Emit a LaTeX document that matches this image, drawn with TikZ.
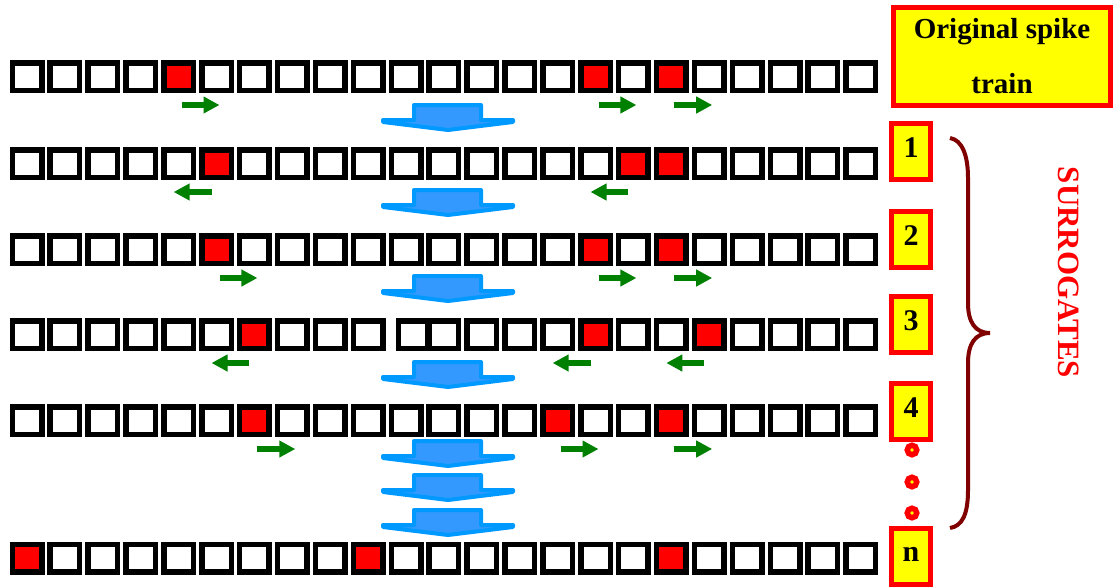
\documentclass[tikz,border=0pt]{standalone}
\usepackage{fontspec}
\setmainfont{Liberation Serif}
\usetikzlibrary{arrows.meta}
\definecolor{spikered}{RGB}{255,0,0}
\definecolor{shiftgreen}{RGB}{0,128,0}
\definecolor{flowblue}{RGB}{0,153,255}
\definecolor{flowfill}{RGB}{51,153,255}
\definecolor{tagyellow}{RGB}{255,255,0}
\definecolor{bracecol}{RGB}{128,0,0}

\begin{document}
\begin{tikzpicture}[x=1pt,y=-1pt,
  cell/.style={draw=black,fill=white,line width=5.5pt,minimum width=29.5pt,minimum height=27.5pt,inner sep=0pt},
  spike/.style={fill=spikered,minimum width=24pt,minimum height=22pt,inner sep=0pt},
  shiftarrow/.style={draw=shiftgreen,line width=6.5pt,-{Triangle[length=16pt,width=16pt]}},
  flow/.style={draw=flowblue,fill=flowfill,line width=4pt,line join=round},
  tagbox/.style={draw=spikered,fill=tagyellow,line width=5pt,inner sep=0pt},
  numtag/.style={minimum width=39pt,minimum height=56pt,font=\fontsize{30}{30}\selectfont\bfseries,text height=22pt,text depth=11pt},
  dot/.style={circle,draw=spikered,fill=tagyellow,line width=5.5pt,minimum size=9.5pt,inner sep=0pt}]
  \useasboundingbox (0,0) rectangle (1113,587);

  % spike trains: row / y / spike positions / nudge of cell 10
  \foreach \r/\y/\spikes/\nudge in {1/76.5/{4,15,17}/0, 2/163.5/{5,16,17}/0, 3/249.5/{5,15,17}/0,
      4/334.5/{6,15,18}/7, 5/420.5/{6,14,17}/0, n/558/{0,9,17}/0}{
    \foreach \i in {0,...,22}{
      \pgfmathsetmacro\bx{27+37.9*\i+\nudge*(\i==10)}
      \node[cell] (b\r-\i) at (\bx,\y) {};
    }
    \foreach \i in \spikes
      \node[spike] (s\r-\i) at (b\r-\i) {};
  }

  % shifts of the spikes
  \foreach \r/\i/\j in {1/4/5, 1/15/16, 1/17/18, 3/5/6, 3/15/16, 3/17/18, 5/6/7, 5/14/15, 5/17/18}
    \draw[shiftarrow] ([xshift=3pt,yshift=-28.5pt]b\r-\i.center) -- ([xshift=3pt,yshift=-28.5pt]b\r-\j.center);
  \foreach \r/\i/\j in {2/5/4, 2/16/15, 4/6/5, 4/15/14, 4/18/17}
    \draw[shiftarrow] ([xshift=-5pt,yshift=-28.5pt]b\r-\i.center) -- ([xshift=-5pt,yshift=-28.5pt]b\r-\j.center);

  % big arrows between the trains
  \foreach \t in {103,188,274,360,439,473,508}
    \draw[flow] (414,\t+2) -- (481,\t+2) -- (481,\t+17) -- (513,\t+17) -- (513,\t+19)
      -- (448,\t+27) -- (383,\t+19) -- (383,\t+17) -- (414,\t+17) -- cycle;

  % labels on the right
  \node[tagbox,minimum width=217pt,minimum height=98pt,align=center,
    font=\fontsize{29}{55}\selectfont\bfseries] (orig) at (1002,56.5) {Original spike\\train};
  \foreach \n/\y in {1/151.5, 2/239.5, 3/324.5, 4/411.5, n/556}
    \node[tagbox,numtag] (t\n) at (911,\y) {\n};
  \foreach \y in {450,482,513}
    \node[dot] (d\y) at (912,\y) {};

  \draw[bracecol,line width=4pt] (950,138) .. controls (962,140) and (968,155) .. (968,178)
    -- (968,303) .. controls (968,322) and (975,333) .. (990,333)
    .. controls (975,333) and (968,344) .. (968,363) -- (968,490)
    .. controls (968,515) and (962,526) .. (950,528);
  \node[text=spikered,rotate=-90,font=\fontsize{31}{31}\selectfont\bfseries] (surr) at (1069,272.5) {SURROGATES};
\end{tikzpicture}
\end{document}
